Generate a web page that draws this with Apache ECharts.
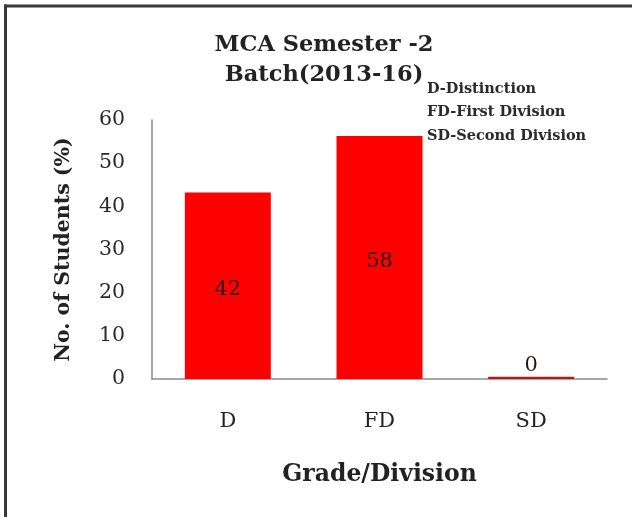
<!DOCTYPE html>
<html>
<head>
<meta charset="utf-8">
<script src="https://cdn.jsdelivr.net/npm/echarts@6/dist/echarts.min.js"></script>
<style>
html,body{margin:0;padding:0;background:#fff;}
#chart{width:632px;height:517px;}
</style>
</head>
<body>
<div id="chart"></div>
<script>
const categories = ['D', 'FD', 'SD'];
const barValues = [43.2, 56.3, 0.5];
const labelTexts = ['42', '58', '0'];
const yTicks = [0, 10, 20, 30, 40, 50, 60];
const titleLines = ['MCA Semester -2', 'Batch(2013-16)'];
const noteLines = ['D-Distinction', 'FD-First Division', 'SD-Second Division'];
const xTitle = 'Grade/Division';
const yTitle = 'No. of Students (%)';

const serif = '"DejaVu Serif", "Liberation Serif", serif';
const chart = echarts.init(document.getElementById('chart'), null, {renderer: 'canvas'});

const seriesData = barValues.map((v, i) => ({
  value: v,
  label: v < 2
    ? {position: 'top', distance: 1, formatter: () => labelTexts[i]}
    : {position: 'inside', offset: [0, 4], formatter: () => labelTexts[i]},
  itemStyle: v < 2 ? {color: '#c81010'} : undefined
}));

chart.setOption({
  animation: false,
  backgroundColor: '#ffffff',
  title: [
    {
      text: titleLines.join('\n'),
      left: 319, top: 25, textAlign: 'center',
      textStyle: {fontFamily: serif, fontWeight: 'bold', fontSize: 22.5, color: '#222', lineHeight: 30}
    },
    {
      text: noteLines.join('\n'),
      left: 422, top: 72,
      textStyle: {fontFamily: serif, fontWeight: 'bold', fontSize: 14.5, color: '#2a2a2a', lineHeight: 23.5}
    }
  ],
  grid: {left: 152, right: 25, top: 120, bottom: 138, containLabel: false},
  xAxis: {
    type: 'category',
    data: categories,
    name: xTitle,
    nameLocation: 'middle',
    nameGap: 84,
    nameTextStyle: {fontFamily: serif, fontWeight: 'bold', fontSize: 23.5, color: '#222'},
    axisLine: {lineStyle: {color: '#8a8a8a', width: 1.5}},
    axisTick: {show: false},
    axisLabel: {margin: 32, fontFamily: serif, fontSize: 21, color: '#222'}
  },
  yAxis: {
    type: 'value',
    min: yTicks[0], max: yTicks[yTicks.length - 1], interval: yTicks[1] - yTicks[0],
    name: yTitle,
    nameLocation: 'middle',
    nameGap: 78,
    nameRotate: 90,
    nameTextStyle: {fontFamily: serif, fontWeight: 'bold', fontSize: 20.5, color: '#222'},
    axisLine: {show: true, lineStyle: {color: '#8a8a8a', width: 1.5}},
    axisTick: {show: false},
    splitLine: {show: false},
    axisLabel: {margin: 27, fontFamily: serif, fontSize: 20.5, color: '#2a2a2a'}
  },
  series: [{
    type: 'bar',
    data: seriesData,
    barWidth: 86,
    itemStyle: {color: '#ff0000'},
    label: {show: true, fontFamily: serif, fontSize: 21, color: '#2a1414'}
  }],
  graphic: [
    {type: 'line', shape: {x1: 5.5, y1: 4.5, x2: 5.5, y2: 517}, style: {stroke: '#383838', lineWidth: 3}},
    {type: 'line', shape: {x1: 4, y1: 6, x2: 632, y2: 6}, style: {stroke: '#383838', lineWidth: 3}}
  ]
});
</script>
</body>
</html>
